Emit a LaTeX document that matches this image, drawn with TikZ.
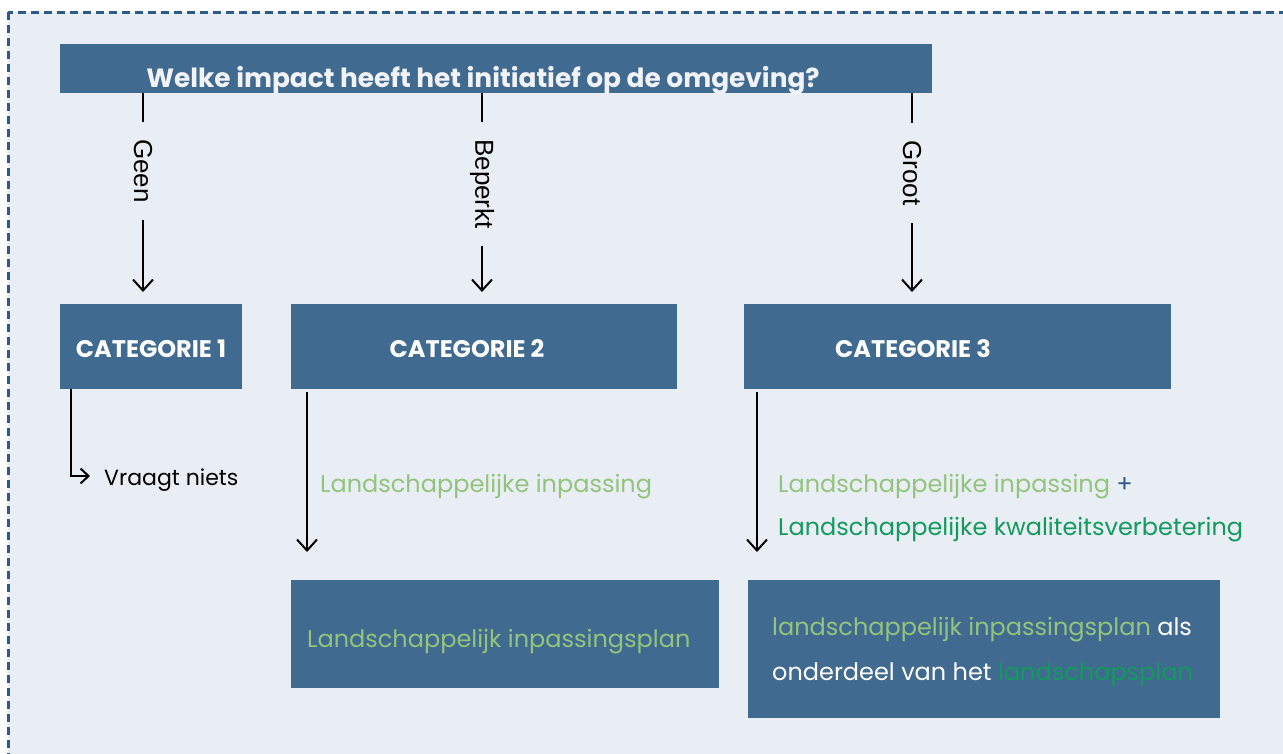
\documentclass[tikz,border=0pt]{standalone}
\usepackage{fontspec}
\setmainfont{Poppins}
\newfontfamily\lblfont{Liberation Sans}
\usetikzlibrary{arrows.meta}
\definecolor{bgc}{HTML}{E8EEF3}
\definecolor{boxc}{HTML}{406A8F}
\definecolor{borderc}{HTML}{2E5A87}
\definecolor{lgreen}{HTML}{93C47D}
\definecolor{dgreen}{HTML}{139A5E}
\definecolor{titlec}{HTML}{F2F3F8}
\begin{document}
\begin{tikzpicture}[x=1pt,y=-1pt,
  boxn/.style={fill=boxc, draw=none, anchor=north west, inner sep=0pt},
  titletxt/.style={text=titlec, font=\bfseries\fontsize{26.4}{30}\selectfont, inner sep=0pt},
  cattxt/.style={text=white, font=\bfseries\fontsize{24}{28}\selectfont, inner sep=0pt},
  bodytxt/.style={font=\fontsize{24}{44}\selectfont, inner sep=0pt, align=left},
  rotlbl/.style={font=\lblfont\fontsize{26}{30}\selectfont, rotate=-90, inner xsep=17pt, inner ysep=0pt},
  conn/.style={line width=2pt, black},
  tip/.style={-{Straight Barb[length=11pt,width=20pt]}},
  smalltip/.style={-{Straight Barb[length=8pt,width=15pt]}}
]
\useasboundingbox (0,0) rectangle (1283,753);
\draw[fill=bgc, draw=borderc, line width=3pt, dash pattern=on 8pt off 5pt] (8,12) rectangle (1300,770);

% title
\node[boxn, minimum width=872pt, minimum height=49pt] (title) at (60,44) {};
\begin{scope}
  \clip (title.north west) rectangle (title.south east);
  \node[titletxt, anchor=base] (tt) at (483,87) {Welke impact heeft het initiatief op de omgeving?};
\end{scope}

% categories
\node[boxn, minimum width=182pt, minimum height=85pt] (cat1) at (60,304) {};
\node[boxn, minimum width=386pt, minimum height=85pt] (cat2) at (291,304) {};
\node[boxn, minimum width=427pt, minimum height=85pt] (cat3) at (744,304) {};
\node[cattxt, anchor=base] (c1t) at (151,357) {CATEGORIE 1};
\node[cattxt, anchor=base] (c2t) at (467,357) {CATEGORIE 2};
\node[cattxt, anchor=base] (c3t) at (913,357) {CATEGORIE 3};

% labels on connectors
\node[rotlbl] (lg) at (143,171) {Geen};
\node[rotlbl] (lb) at (482,184) {Beperkt};
\node[rotlbl] (lr) at (912,173) {Groot};

\draw[conn] (title.south -| lg) -- (lg);
\draw[conn, tip, shorten >=12pt] (lg) -- (lg |- cat1.north);
\draw[conn] (title.south -| lb) -- (lb);
\draw[conn, tip, shorten >=12pt] (lb) -- (lb |- cat2.north);
\draw[conn] (title.south -| lr) -- (lr);
\draw[conn, tip, shorten >=12pt] (lr) -- (lr |- cat3.north);

% category 1
\node[font=\fontsize{22}{26}\selectfont, inner xsep=14pt, inner ysep=0pt, anchor=base west] (vn) at (90,485) {Vraagt niets};
\coordinate (c1s) at ([xshift=11pt]cat1.south west);
\draw[conn, smalltip] (c1s) |- ([yshift=9pt]vn.base west);

% bottom boxes
\node[boxn, minimum width=428pt, minimum height=108pt] (box2) at (291,580) {};
\node[boxn, minimum width=472pt, minimum height=138pt] (box3) at (748,580) {};

% category 2
\node[bodytxt, text=lgreen, anchor=base west] (t2) at (320,492) {Landschappelijke inpassing};
\draw[conn, tip, shorten <=3pt] ([xshift=16pt]cat2.south west) -- ([xshift=16pt,yshift=28pt]box2.north west);
\node[bodytxt, text=lgreen, anchor=base west] (b2t) at (307,647) {Landschappelijk inpassingsplan};

% category 3
\node[bodytxt, text=lgreen, anchor=base west] (t3a) at (778,492) {Landschappelijke inpassing \textcolor{borderc}{+}};
\node[bodytxt, text=dgreen, anchor=base west] (t3b) at (778,535) {Landschappelijke kwaliteitsverbetering};
\draw[conn, tip, shorten <=3pt] ([xshift=13pt]cat3.south west) -- ([xshift=9pt,yshift=28pt]box3.north west);
\node[bodytxt, text=lgreen, anchor=base west] (b3a) at (772,635) {landschappelijk inpassingsplan \textcolor{white}{als}};
\node[bodytxt, text=white, anchor=base west] (b3b) at (772,680) {onderdeel van het \textcolor{dgreen}{landschapsplan}};
\end{tikzpicture}
\end{document}
